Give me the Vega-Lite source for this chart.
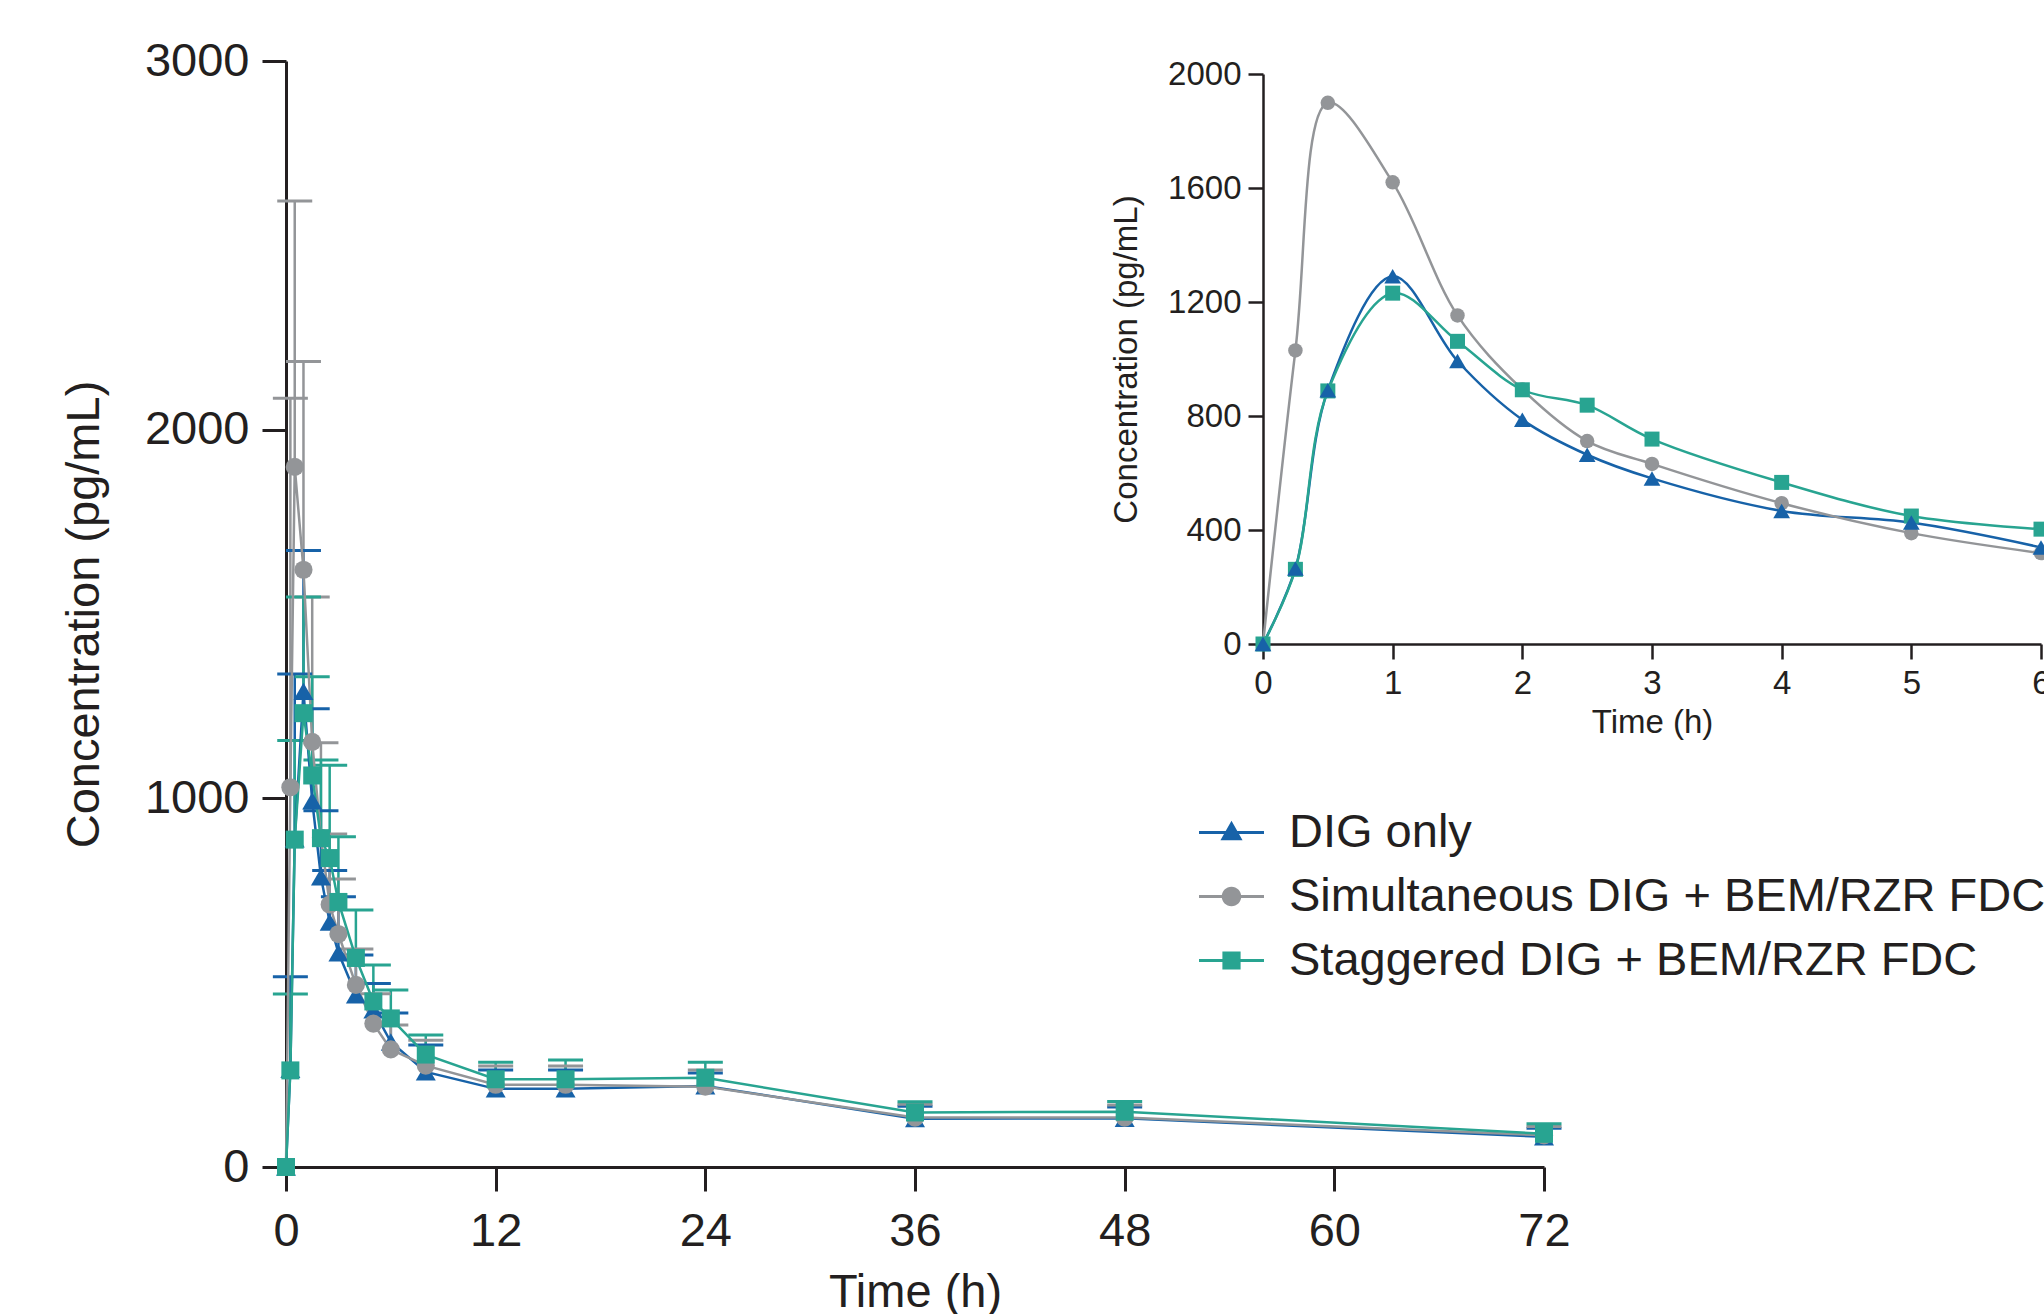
{
  "$schema": "https://vega.github.io/schema/vega-lite/v6.json",
  "width": 1258,
  "height": 1106,
  "autosize": {"type": "none"},
  "padding": {"left": 286, "top": 61, "right": 500, "bottom": 147},
  "background": "white",
  "config": {
    "view": {"stroke": null},
    "font": "Liberation Sans",
    "axis": {"grid": false, "domainColor": "#231f20", "tickColor": "#231f20", "labelColor": "#231f20", "titleColor": "#231f20", "labelFont": "Liberation Sans", "titleFont": "Liberation Sans", "titleFontWeight": "normal"}
  },
  "data": {"values": [
    {"series": "DIG only", "time": 0, "conc": 0, "upper": null},
    {"series": "DIG only", "time": 0.25, "conc": 265, "upper": 516},
    {"series": "DIG only", "time": 0.5, "conc": 890, "upper": 1337},
    {"series": "DIG only", "time": 1, "conc": 1290, "upper": 1672},
    {"series": "DIG only", "time": 1.5, "conc": 993, "upper": 1243},
    {"series": "DIG only", "time": 2, "conc": 787, "upper": 966},
    {"series": "DIG only", "time": 2.5, "conc": 664, "upper": 804},
    {"series": "DIG only", "time": 3, "conc": 581, "upper": 733},
    {"series": "DIG only", "time": 4, "conc": 467, "upper": 575},
    {"series": "DIG only", "time": 5, "conc": 426, "upper": 498},
    {"series": "DIG only", "time": 6, "conc": 339, "upper": 418},
    {"series": "DIG only", "time": 8, "conc": 258, "upper": 331},
    {"series": "DIG only", "time": 12, "conc": 212, "upper": 263},
    {"series": "DIG only", "time": 16, "conc": 212, "upper": 263},
    {"series": "DIG only", "time": 24, "conc": 220, "upper": 255},
    {"series": "DIG only", "time": 36, "conc": 131, "upper": 165},
    {"series": "DIG only", "time": 48, "conc": 132, "upper": 163},
    {"series": "DIG only", "time": 72, "conc": 82, "upper": 105},
    {"series": "Simultaneous DIG + BEM/RZR FDC", "time": 0, "conc": 0, "upper": null},
    {"series": "Simultaneous DIG + BEM/RZR FDC", "time": 0.25, "conc": 1030, "upper": 2085},
    {"series": "Simultaneous DIG + BEM/RZR FDC", "time": 0.5, "conc": 1899, "upper": 2620},
    {"series": "Simultaneous DIG + BEM/RZR FDC", "time": 1, "conc": 1620, "upper": 2185},
    {"series": "Simultaneous DIG + BEM/RZR FDC", "time": 1.5, "conc": 1153, "upper": 1546},
    {"series": "Simultaneous DIG + BEM/RZR FDC", "time": 2, "conc": 893, "upper": 1151},
    {"series": "Simultaneous DIG + BEM/RZR FDC", "time": 2.5, "conc": 712, "upper": 903},
    {"series": "Simultaneous DIG + BEM/RZR FDC", "time": 3, "conc": 632, "upper": 781},
    {"series": "Simultaneous DIG + BEM/RZR FDC", "time": 4, "conc": 494, "upper": 591},
    {"series": "Simultaneous DIG + BEM/RZR FDC", "time": 5, "conc": 389, "upper": 470},
    {"series": "Simultaneous DIG + BEM/RZR FDC", "time": 6, "conc": 319, "upper": 385},
    {"series": "Simultaneous DIG + BEM/RZR FDC", "time": 8, "conc": 275, "upper": 344},
    {"series": "Simultaneous DIG + BEM/RZR FDC", "time": 12, "conc": 223, "upper": 274},
    {"series": "Simultaneous DIG + BEM/RZR FDC", "time": 16, "conc": 223, "upper": 274},
    {"series": "Simultaneous DIG + BEM/RZR FDC", "time": 24, "conc": 218, "upper": 263},
    {"series": "Simultaneous DIG + BEM/RZR FDC", "time": 36, "conc": 134, "upper": 170},
    {"series": "Simultaneous DIG + BEM/RZR FDC", "time": 48, "conc": 134, "upper": 168},
    {"series": "Simultaneous DIG + BEM/RZR FDC", "time": 72, "conc": 86, "upper": 110},
    {"series": "Staggered DIG + BEM/RZR FDC", "time": 0, "conc": 0, "upper": null},
    {"series": "Staggered DIG + BEM/RZR FDC", "time": 0.25, "conc": 262, "upper": 469},
    {"series": "Staggered DIG + BEM/RZR FDC", "time": 0.5, "conc": 888, "upper": 1157},
    {"series": "Staggered DIG + BEM/RZR FDC", "time": 1, "conc": 1231, "upper": 1546},
    {"series": "Staggered DIG + BEM/RZR FDC", "time": 1.5, "conc": 1062, "upper": 1330},
    {"series": "Staggered DIG + BEM/RZR FDC", "time": 2, "conc": 892, "upper": 1104},
    {"series": "Staggered DIG + BEM/RZR FDC", "time": 2.5, "conc": 838, "upper": 1090},
    {"series": "Staggered DIG + BEM/RZR FDC", "time": 3, "conc": 719, "upper": 896},
    {"series": "Staggered DIG + BEM/RZR FDC", "time": 4, "conc": 567, "upper": 697},
    {"series": "Staggered DIG + BEM/RZR FDC", "time": 5, "conc": 449, "upper": 548},
    {"series": "Staggered DIG + BEM/RZR FDC", "time": 6, "conc": 403, "upper": 480},
    {"series": "Staggered DIG + BEM/RZR FDC", "time": 8, "conc": 305, "upper": 358},
    {"series": "Staggered DIG + BEM/RZR FDC", "time": 12, "conc": 238, "upper": 284},
    {"series": "Staggered DIG + BEM/RZR FDC", "time": 16, "conc": 238, "upper": 290},
    {"series": "Staggered DIG + BEM/RZR FDC", "time": 24, "conc": 242, "upper": 284},
    {"series": "Staggered DIG + BEM/RZR FDC", "time": 36, "conc": 148, "upper": 177},
    {"series": "Staggered DIG + BEM/RZR FDC", "time": 48, "conc": 150, "upper": 178},
    {"series": "Staggered DIG + BEM/RZR FDC", "time": 72, "conc": 90, "upper": 117}
  ]},
  "layer": [
    {
      "encoding": {
        "x": {"field": "time", "type": "quantitative", "title": "Time (h)",
          "scale": {"domain": [0, 72], "nice": false, "zero": false},
          "axis": {"orient": "bottom", "values": [0, 12, 24, 36, 48, 60, 72], "format": "d", "labelFontSize": 47, "titleFontSize": 47, "tickSize": 24, "tickWidth": 3, "domainWidth": 3, "labelPadding": 54, "labelBaseline": "alphabetic", "titleX": 629, "titleY": 139, "titleBaseline": "alphabetic", "labelFlush": false, "labelOverlap": false}},
        "y": {"field": "conc", "type": "quantitative", "title": "Concentration (pg/mL)",
          "scale": {"domain": [0, 3000], "nice": false},
          "axis": {"orient": "left", "values": [0, 1000, 2000, 3000], "format": "d", "labelFontSize": 47, "titleFontSize": 47, "tickSize": 24, "tickWidth": 3, "domainWidth": 3, "labelPadding": 13, "titleX": -188, "titleY": 553, "titleBaseline": "alphabetic", "labelFlush": false, "labelOverlap": false}}
      },
      "layer": [
        {
          "transform": [{"filter": "isValid(datum.upper)"}],
          "mark": {"type": "rule", "strokeWidth": 2.5},
          "encoding": {
            "y2": {"field": "upper"},
            "color": {"field": "series", "type": "nominal", "legend": null, "scale": {"range": ["#1762a8", "#939598", "#28a491"]}}
          }
        },
        {
          "transform": [{"filter": "isValid(datum.upper)"}],
          "mark": {"type": "tick", "orient": "horizontal", "size": 35, "thickness": 3, "opacity": 1},
          "encoding": {
            "y": {"field": "upper", "type": "quantitative", "title": "Concentration (pg/mL)"},
            "color": {"field": "series", "type": "nominal", "legend": null}
          }
        },
        {
          "mark": {"type": "line", "strokeWidth": 2.5},
          "encoding": {"color": {"field": "series", "type": "nominal", "legend": null}}
        },
        {
          "transform": [{"filter": "datum.series == 'DIG only'"}],
          "mark": {"type": "point", "filled": true, "opacity": 1, "shape": "triangle-up", "size": 400},
          "encoding": {"color": {"field": "series", "type": "nominal", "legend": null}}
        },
        {
          "transform": [{"filter": "datum.series == 'Simultaneous DIG + BEM/RZR FDC'"}],
          "mark": {"type": "point", "filled": true, "opacity": 1, "shape": "circle", "size": 330},
          "encoding": {"color": {"field": "series", "type": "nominal", "legend": null}}
        },
        {
          "transform": [{"filter": "datum.series == 'Staggered DIG + BEM/RZR FDC'"}],
          "mark": {"type": "point", "filled": true, "opacity": 1, "shape": "square", "size": 324},
          "encoding": {"color": {"field": "series", "type": "nominal", "legend": null}}
        },
        {
          "transform": [{"filter": "false"}],
          "mark": {"type": "point", "filled": true, "opacity": 1, "size": 4225, "strokeWidth": 0},
          "encoding": {
            "fill": {"field": "series", "type": "nominal",
              "scale": {"domain": ["DIG only", "Simultaneous DIG + BEM/RZR FDC", "Staggered DIG + BEM/RZR FDC"], "range": ["#1762a8", "#939598", "#28a491"]},
              "legend": {"title": null, "orient": "none", "legendX": 913, "legendY": 739, "direction": "vertical", "labelFontSize": 47, "labelFont": "Liberation Sans", "labelColor": "#231f20", "labelLimit": 2000, "labelOffset": 25, "symbolSize": 4225, "symbolStrokeWidth": 0, "symbolOpacity": 1, "rowPadding": 8, "padding": 0}},
            "shape": {"field": "series", "type": "nominal",
              "scale": {"domain": ["DIG only", "Simultaneous DIG + BEM/RZR FDC", "Staggered DIG + BEM/RZR FDC"],
                "range": ["M-1,-0.046H1V0.046H-1ZM0,-0.36L0.34,0.24H-0.34Z", "M-1,-0.046H1V0.046H-1ZM0.3,0A0.3,0.3 0 1,1 -0.3,0A0.3,0.3 0 1,1 0.3,0Z", "M-1,-0.046H1V0.046H-1ZM-0.28,-0.28H0.28V0.28H-0.28Z"]},
              "legend": {"title": null, "orient": "none", "legendX": 913, "legendY": 739, "direction": "vertical", "labelFontSize": 47, "labelFont": "Liberation Sans", "labelColor": "#231f20", "labelLimit": 2000, "labelOffset": 25, "symbolSize": 4225, "symbolStrokeWidth": 0, "symbolOpacity": 1, "rowPadding": 8, "padding": 0}}
          }
        }
      ]
    },
    {
      "transform": [{"filter": "datum.time <= 6"}],
      "encoding": {
        "x": {"field": "time", "type": "quantitative", "title": "Time (h)",
          "scale": {"domain": [0, 6], "nice": false, "zero": false, "range": [977, 1755]},
          "axis": {"orient": "bottom", "offset": -523, "values": [0, 1, 2, 3, 4, 5, 6], "format": "d", "labelFontSize": 33, "titleFontSize": 33, "tickSize": 15, "tickWidth": 2.5, "domainWidth": 2.5, "labelPadding": 34, "labelBaseline": "alphabetic", "titleX": 1366, "titleY": 88, "titleBaseline": "alphabetic", "labelFlush": false, "labelOverlap": false}},
        "y": {"field": "conc", "type": "quantitative", "title": "Concentration (pg/mL)",
          "scale": {"domain": [0, 2000], "nice": false, "range": [583, 13]},
          "axis": {"orient": "left", "offset": -977, "values": [0, 400, 800, 1200, 1600, 2000], "format": "d", "labelFontSize": 33, "titleFontSize": 33, "tickSize": 15, "tickWidth": 2.5, "domainWidth": 2.5, "labelPadding": 7, "titleX": -127, "titleY": 298, "titleBaseline": "alphabetic", "labelFlush": false, "labelOverlap": false}}
      },
      "layer": [
        {
          "mark": {"type": "line", "strokeWidth": 2.5, "interpolate": "catmull-rom"},
          "encoding": {"color": {"field": "series", "type": "nominal", "legend": null}}
        },
        {
          "transform": [{"filter": "datum.series == 'Simultaneous DIG + BEM/RZR FDC'"}],
          "mark": {"type": "point", "filled": true, "opacity": 1, "shape": "circle", "size": 210},
          "encoding": {"color": {"field": "series", "type": "nominal", "legend": null}}
        },
        {
          "transform": [{"filter": "datum.series == 'Staggered DIG + BEM/RZR FDC'"}],
          "mark": {"type": "point", "filled": true, "opacity": 1, "shape": "square", "size": 225},
          "encoding": {"color": {"field": "series", "type": "nominal", "legend": null}}
        },
        {
          "transform": [{"filter": "datum.series == 'DIG only'"}],
          "mark": {"type": "point", "filled": true, "opacity": 1, "shape": "triangle-up", "size": 280},
          "encoding": {"color": {"field": "series", "type": "nominal", "legend": null}}
        }
      ]
    }
  ],
  "resolve": {"scale": {"x": "independent", "y": "independent"}, "axis": {"x": "independent", "y": "independent"}}
}
